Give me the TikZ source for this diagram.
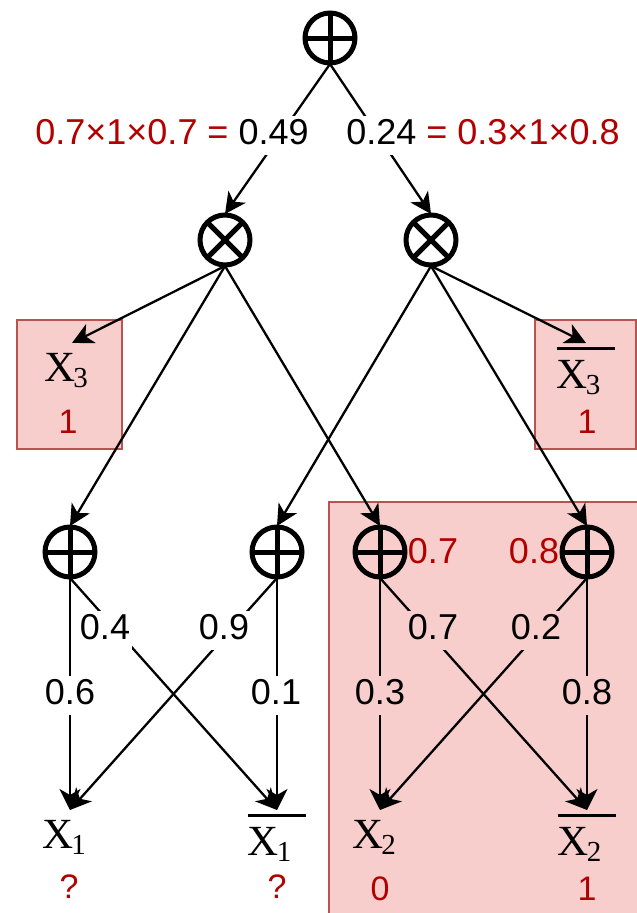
\documentclass[tikz,border=0pt]{standalone}
\usepackage{fontspec}
\setmainfont{Liberation Serif}
\newfontfamily\labfont{Liberation Sans}
\usetikzlibrary{arrows.meta}

\definecolor{valred}{RGB}{178,0,0}
\definecolor{boxfill}{RGB}{248,206,204}
\definecolor{boxline}{RGB}{184,84,80}

% literal X_i and its negation (bar over the literal)
\newcommand{\litX}[1]{X\kern-2pt\raisebox{-6pt}{\fontsize{29}{29}\selectfont #1}}
\newcommand{\posX}[1]{\litX{#1}\kern12pt}
\newcommand{\negX}[1]{\vbox{\hrule height 2.5pt \kern 10pt \hbox{\litX{#1}\kern15pt}}}

\tikzset{
  gate/.style={circle, draw, line width=5pt, minimum size=50pt, inner sep=0pt, outer sep=1pt},
  sumgate/.style={gate, path picture={
      \draw[line width=5pt] (path picture bounding box.north) -- (path picture bounding box.south)
                            (path picture bounding box.west) -- (path picture bounding box.east);}},
  prodgate/.style={gate, path picture={
      \draw[line width=5pt] (path picture bounding box.north west) -- (path picture bounding box.south east)
                            (path picture bounding box.north east) -- (path picture bounding box.south west);}},
  edge/.style={line width=2.3pt, -{Stealth[length=21pt,width=21pt,inset=6pt]}},
  evidence/.style={fill=boxfill, draw=boxline, line width=2pt},
  literal/.style={font=\fontsize{43}{43}\selectfont, inner sep=0pt, outer sep=0pt, anchor=north, text height=38.5pt},
  nliteral/.style={literal, text height=45pt},
  weight/.style={font=\labfont\fontsize{36}{40}\selectfont, inner xsep=2pt, inner ysep=2pt,
                 text height=27pt, text depth=8pt, fill=white},
  pweight/.style={weight, fill=boxfill},
  value/.style={font=\labfont\fontsize{34}{40}\selectfont, text=valred, inner sep=0pt},
}

\begin{document}
\begin{tikzpicture}[x=1pt, y=-1pt]
  \useasboundingbox (0,0) rectangle (637,913);

  % evidence regions
  \path[evidence] (17,320) rectangle (122,449);
  \path[evidence] (535,320) rectangle (636,449);
  \path[evidence] (329,502) rectangle (660,940);

  % gates
  \node[sumgate]  (root) at (330,38) {};
  \node[prodgate] (mL)   at (225,240) {};
  \node[prodgate] (mR)   at (431,240) {};
  \node[sumgate]  (p1)   at (70,552) {};
  \node[sumgate]  (p2)   at (277,552) {};
  \node[sumgate]  (p3)   at (380,552) {};
  \node[sumgate]  (p4)   at (587,552) {};

  % literals
  \node[literal]  (x3)  at (72,343)  {\posX{3}};
  \node[nliteral] (nx3) at (586,343) {\negX{3}};
  \node[literal]  (x1)  at (70,810)  {\posX{1}};
  \node[nliteral] (nx1) at (277,810) {\negX{1}};
  \node[literal]  (x2)  at (380,810) {\posX{2}};
  \node[nliteral] (nx2) at (587,810) {\negX{2}};

  % evidence values
  \node[value] (v3)  at (68,422)  {1};
  \node[value] (nv3) at (587,422) {1};
  \node[value] (v1)  at (69,887)  {?};
  \node[value] (nv1) at (277,887) {?};
  \node[value] (v2)  at (380,889) {0};
  \node[value] (nv2) at (587,889) {1};

  % connectors
  \draw[edge] (root.south) -- (mL.north);
  \draw[edge] (root.south) -- (mR.north);
  \draw[edge] (mL.south) -- (x3.north);
  \draw[edge] (mL.south) -- (p1.north);
  \draw[edge] (mL.south) -- (p3.north);
  \draw[edge] (mR.south) -- (p2.north);
  \draw[edge] (mR.south) -- (p4.north);
  \draw[edge] (mR.south) -- (nx3.north);
  \draw[edge] (p1.south) -- (x1.north);
  \draw[edge] (p1.south) -- (nx1.north);
  \draw[edge] (p2.south) -- (x1.north);
  \draw[edge] (p2.south) -- (nx1.north);
  \draw[edge] (p3.south) -- (x2.north);
  \draw[edge] (p3.south) -- (nx2.north);
  \draw[edge] (p4.south) -- (x2.north);
  \draw[edge] (p4.south) -- (nx2.north);

  % weights
  \node[weight] (wL) at (172,135) {{\color{valred}0.7×1×0.7 =} 0.49};
  \node[weight] (wR) at (483,135) {0.24 {\color{valred}= 0.3×1×0.8}};
  \node[weight]  (w16) at (70,695)  {0.6};
  \node[weight]  (w14) at (105,630) {0.4};
  \node[weight]  (w29) at (224,630) {0.9};
  \node[weight]  (w21) at (276,695) {0.1};
  \node[pweight] (w33) at (380,695) {0.3};
  \node[pweight] (w37) at (433,630) {0.7};
  \node[pweight] (w42) at (536,630) {0.2};
  \node[pweight] (w48) at (587,695) {0.8};

  % sum-node values under evidence
  \node[value, font=\labfont\fontsize{36}{40}\selectfont] (s3) at (433,551) {0.7};
  \node[value, font=\labfont\fontsize{36}{40}\selectfont] (s4) at (534,551) {0.8};
\end{tikzpicture}
\end{document}
